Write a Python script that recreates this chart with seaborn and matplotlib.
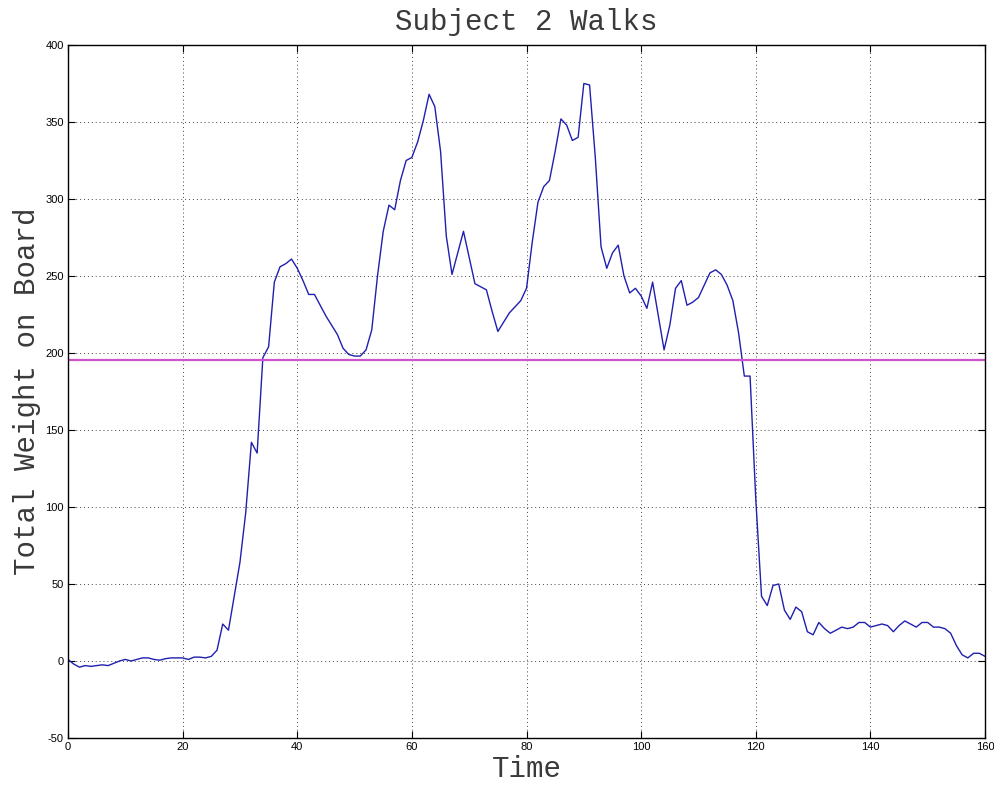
import numpy as np
import pandas as pd
import matplotlib
matplotlib.use("Agg")
import matplotlib.pyplot as plt
import seaborn as sns

time = list(range(0, 161))
weight = [
    1, -2, -4, -3, -3.5, -3, -2.5, -3, -1.5, 0,
    1, 0, 1, 2, 2, 1, 0.5, 1.5, 2, 2,
    2, 1, 2.5, 2.5, 2, 3, 7, 24, 20, 42,
    64, 96, 142, 135, 197, 204, 246, 256, 258, 261,
    255, 247, 238, 238, 231, 224, 218, 212, 203, 199,
    198, 198, 202, 215, 250, 279, 296, 293, 312, 325,
    327, 337, 351, 368, 360, 331, 276, 251, 265, 279,
    262, 245, 243, 241, 227, 214, 220, 226, 230, 234,
    242, 272, 298, 308, 312, 331, 352, 348, 338, 340,
    375, 374, 327, 269, 255, 265, 270, 250, 239, 242,
    237, 229, 246, 224, 202, 218, 242, 247, 231, 233,
    236, 244, 252, 254, 251, 244, 234, 213, 185, 185,
    105, 42, 36, 49, 50, 33, 27, 35, 32, 19,
    17, 25, 21, 18, 20, 22, 21, 22, 25, 25,
    22, 23, 24, 23, 19, 23, 26, 24, 22, 25,
    25, 22, 22, 21, 18, 10, 4, 2, 5, 5,
    3,
]
threshold = 195.5

title_text = "Subject 2 Walks"
x_label = "Time"
y_label = "Total Weight on Board"
x_ticks = [0, 20, 40, 60, 80, 100, 120, 140, 160]
y_ticks = [-50, 0, 50, 100, 150, 200, 250, 300, 350, 400]

sns.set_style("white")
plt.rcParams["font.family"] = ["Liberation Sans", "DejaVu Sans"]
plt.rcParams["axes.unicode_minus"] = False

df = pd.DataFrame({"Time": time, "Weight": weight})

fig = plt.figure(figsize=(9.94, 7.85), dpi=100)
ax = fig.add_axes([0.0684, 0.0599, 0.9226, 0.8828])

sns.lineplot(data=df, x="Time", y="Weight", ax=ax, color="#1f1fb0", linewidth=1.0)
ax.axhline(threshold, color="#cc55cc", linewidth=1.6)

ax.set_xlim(0, 160)
ax.set_ylim(-50, 400)
ax.set_xticks(x_ticks)
ax.set_yticks(y_ticks)
ax.grid(True, linestyle=(0, (1, 3)), color="#444444", linewidth=0.7)
ax.set_axisbelow(True)

for s in ax.spines.values():
    s.set_visible(True)
    s.set_color("black")
    s.set_linewidth(1.0)

ax.tick_params(axis="both", direction="in", length=5, width=0.8, colors="black",
               labelsize=8, top=True, right=True, bottom=True, left=True, pad=3)

mono = ["Liberation Mono", "DejaVu Sans Mono"]
ax.set_title(title_text, family=mono, fontsize=21, pad=11, color="#3a3a3a")
ax.set_xlabel(x_label, family=mono, fontsize=21, labelpad=2, color="#3a3a3a")
ax.set_ylabel(y_label, family=mono, fontsize=21, labelpad=3, color="#3a3a3a")

fig.savefig("out.png", dpi=100)
